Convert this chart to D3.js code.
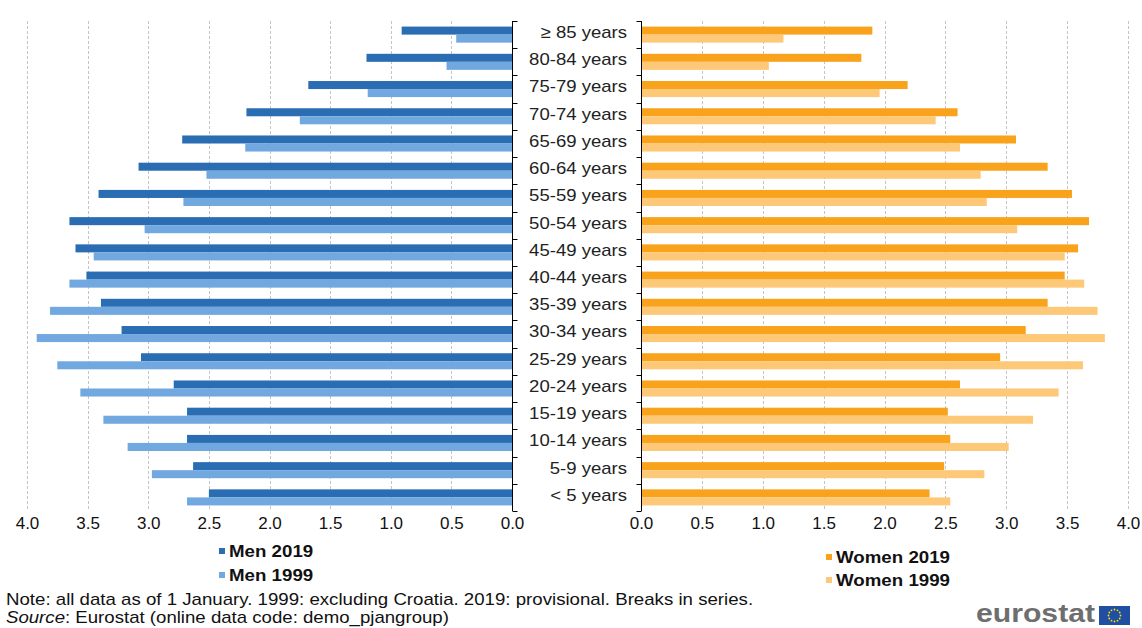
<!DOCTYPE html>
<html><head><meta charset="utf-8">
<script src="https://cdn.jsdelivr.net/npm/d3@7"></script>
<style>
html,body{margin:0;padding:0;background:#fff;}
svg{display:block;font-family:"Liberation Sans",Arial,sans-serif;}
</style></head>
<body>
<script>
const categories = ["≥ 85 years","80-84 years","75-79 years","70-74 years","65-69 years","60-64 years","55-59 years","50-54 years","45-49 years","40-44 years","35-39 years","30-34 years","25-29 years","20-24 years","15-19 years","10-14 years","5-9 years","< 5 years"];
const men2019   = [0.91,1.20,1.68,2.19,2.72,3.08,3.41,3.65,3.60,3.51,3.39,3.22,3.06,2.79,2.68,2.68,2.63,2.50];
const men1999   = [0.46,0.54,1.19,1.75,2.20,2.52,2.71,3.03,3.45,3.65,3.81,3.92,3.75,3.56,3.37,3.17,2.97,2.68];
const women2019 = [1.90,1.81,2.19,2.60,3.08,3.34,3.54,3.68,3.59,3.48,3.34,3.16,2.95,2.62,2.52,2.54,2.49,2.37];
const women1999 = [1.17,1.05,1.96,2.42,2.62,2.79,2.84,3.09,3.48,3.64,3.75,3.81,3.63,3.43,3.22,3.02,2.82,2.54];
const tickValues = [0,0.5,1,1.5,2,2.5,3,3.5,4];
const seriesNames = ["Men 2019","Men 1999","Women 2019","Women 1999"];
const colors = {"Men 2019":"#2a6db3","Men 1999":"#71a8df","Women 2019":"#f9a21c","Women 1999":"#fdc877"};

const W=1142,H=628;
const svg=d3.select("body").append("svg").attr("width",W).attr("height",H);

function stretch(sel,k){
  sel.each(function(){
    const n=this.getComputedTextLength();
    d3.select(this).attr("textLength",n*k).attr("lengthAdjust","spacingAndGlyphs");
  });
}

const yTop=21,yBot=511;
const y=d3.scaleBand().domain(categories).range([yTop,yBot]).paddingInner(0.41).paddingOuter(0.205);
const sub=d3.scaleBand().domain(["a","b"]).range([0,y.bandwidth()]);

const xL=d3.scaleLinear().domain([0,4]).range([512,27]);
const xR=d3.scaleLinear().domain([0,4]).range([641,1128]);

function panel(x, vals2019, vals1999, n19, n99, axisX, tickDir){
  svg.append("g").selectAll("line").data(tickValues.filter(d=>d>0)).join("line")
    .attr("x1",d=>Math.round(x(d))+0.5).attr("x2",d=>Math.round(x(d))+0.5)
    .attr("y1",yTop).attr("y2",yBot)
    .attr("stroke","#c4c4c4").attr("stroke-width",1).attr("stroke-dasharray","3,2");
  const g=svg.append("g");
  g.selectAll("rect.a").data(categories).join("rect").attr("class","a")
    .attr("x",(d,i)=>Math.min(x(0),x(vals2019[i]))).attr("width",(d,i)=>Math.abs(x(vals2019[i])-x(0)))
    .attr("y",d=>y(d)+sub("a")).attr("height",sub.bandwidth()).attr("fill",colors[n19]);
  g.selectAll("rect.b").data(categories).join("rect").attr("class","b")
    .attr("x",(d,i)=>Math.min(x(0),x(vals1999[i]))).attr("width",(d,i)=>Math.abs(x(vals1999[i])-x(0)))
    .attr("y",d=>y(d)+sub("b")).attr("height",sub.bandwidth()).attr("fill",colors[n99]);
  const ax=d3.axisBottom(x).tickValues(tickValues).tickFormat(d3.format(".1f")).tickSize(0).tickPadding(0);
  const ag=svg.append("g").attr("transform",`translate(0,${yBot+6})`).call(ax);
  ag.select(".domain").remove();
  ag.selectAll("text").attr("font-size",17).attr("fill","#111").attr("font-family","Liberation Sans, Arial, sans-serif");
  const ax0=Math.round(axisX)+0.5;
  svg.append("line").attr("x1",ax0).attr("x2",ax0).attr("y1",yTop).attr("y2",yBot).attr("stroke","#000");
  const bounds=d3.range(categories.length+1).map(i=>yTop+i*y.step());
  svg.append("g").selectAll("line").data(bounds).join("line")
    .attr("x1",ax0).attr("x2",ax0+tickDir*5)
    .attr("y1",d=>Math.round(d)+0.5).attr("y2",d=>Math.round(d)+0.5).attr("stroke","#000");
}
panel(xL,men2019,men1999,"Men 2019","Men 1999",xL(0),1);
panel(xR,women2019,women1999,"Women 2019","Women 1999",xR(0),-1);

const cl=svg.append("g").selectAll("text").data(categories).join("text")
  .attr("x",627).attr("y",d=>y(d)+y.bandwidth()/2).attr("dy","0.2em")
  .attr("text-anchor","end").attr("font-size",17).attr("fill","#222").text(d=>d);
stretch(cl,1.09);

function legend(items,x0,y0,dy){
  const lg=svg.append("g");
  items.forEach((n,i)=>{
    lg.append("rect").attr("x",x0).attr("y",y0+i*dy-3).attr("width",6).attr("height",6).attr("fill",colors[n]);
    const t=lg.append("text").attr("x",x0+10).attr("y",y0+i*dy).attr("dy","0.35em")
      .attr("font-size",17).attr("font-weight","bold").attr("fill","#111").text(n);
    stretch(t,1.1);
  });
}
legend(["Men 2019","Men 1999"],219,551,24);
legend(["Women 2019","Women 1999"],826,557,23);

const note=svg.append("text").attr("x",6).attr("y",605).attr("font-size",17).attr("fill","#111")
  .text("Note: all data as of 1 January. 1999: excluding Croatia. 2019: provisional. Breaks in series.");
stretch(note,1.097);
const src=svg.append("text").attr("x",6).attr("y",623).attr("font-size",17).attr("fill","#111");
src.append("tspan").attr("font-style","italic").text("Source");
src.append("tspan").text(": Eurostat (online data code: demo_pjangroup)");
stretch(src,1.095);

svg.append("text").attr("x",976).attr("y",622).attr("font-size",26).attr("font-weight","bold")
  .attr("fill","#6e6e6e").attr("textLength",119).attr("lengthAdjust","spacingAndGlyphs").text("eurostat");
svg.append("rect").attr("x",1099).attr("y",606).attr("width",31).attr("height",19).attr("fill","#1f4ea3");
const stars=d3.range(12).map(i=>i*Math.PI/6);
svg.append("g").selectAll("circle").data(stars).join("circle")
  .attr("cx",d=>1114.5+6*Math.cos(d)).attr("cy",d=>615.5+6*Math.sin(d)).attr("r",0.9).attr("fill","#ffdd00");
</script>
</body></html>
